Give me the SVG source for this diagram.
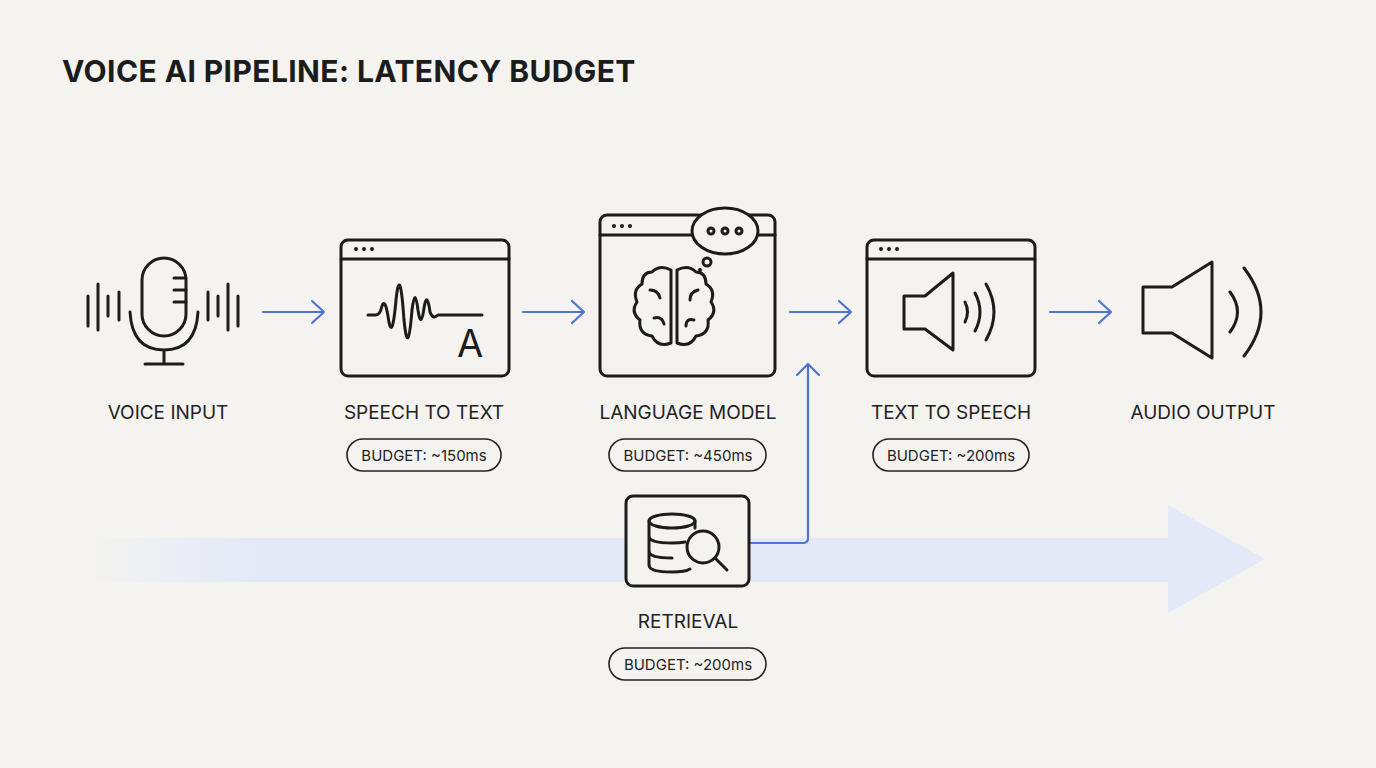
<svg xmlns="http://www.w3.org/2000/svg" width="1376" height="768" viewBox="0 0 1376 768">
<style>
.ic{fill:none;stroke:#1c1c1c;stroke-width:3;stroke-linecap:round;stroke-linejoin:round}
.box{fill:#f4f3ef;stroke:#1c1c1c;stroke-width:3}
.lbl{font-family:Inter,"Liberation Sans",sans-serif;font-size:19px;fill:#222;text-anchor:middle}
.pill{fill:none;stroke:#222;stroke-width:1.6}
.pt{font-family:Inter,"Liberation Sans",sans-serif;font-size:15px;fill:#222;text-anchor:middle}
.con{fill:none;stroke:#4f74d0;stroke-width:2.2;stroke-linecap:round;stroke-linejoin:round}
</style>
<defs>
<linearGradient id="band" x1="0" x2="1"><stop offset="0" stop-color="#e4e9f8" stop-opacity="0"/><stop offset="0.15" stop-color="#e4e9f8"/><stop offset="1" stop-color="#e4e9f8"/></linearGradient>
</defs>
<rect width="1376" height="768" fill="#f4f3ef"/>
<text x="62" y="82" font-family="Inter,'Liberation Sans',sans-serif" font-size="30" font-weight="700" letter-spacing="0.4" fill="#1c1c1c">VOICE AI PIPELINE: LATENCY BUDGET</text>
<path d="M80 538H1168V505L1265 559L1168 613V582H80Z" fill="url(#band)"/>
<g id="connectors">
<path class="con" d="M263 312H324M312 301L324 312L312 323"/>
<path class="con" d="M523 312H584M572 301L584 312L572 323"/>
<path class="con" d="M790 312H851M839 301L851 312L839 323"/>
<path class="con" d="M1050 312H1111M1099 301L1111 312L1099 323"/>
<path class="con" d="M750 543H803Q808 543 808 538V364M797 375L808 364L819 375"/>
</g>
<g id="voice-input">
<rect class="ic" x="142" y="258" width="44" height="78" rx="22"/>
<path class="ic" d="M174 278H186M174 290H186M174 302H186"/>
<path class="ic" d="M130 312Q132 350 164 350Q196 350 198 312M164 350V364M145 364H183"/>
<path class="ic" d="M88 296V326M98 284V330M108 296V316M119 292V320M208 292V320M218 296V316M228 284V330M238 296V326"/>
<text class="lbl" x="168" y="419">VOICE INPUT</text>
</g>
<g id="speech-to-text">
<rect class="box" x="341" y="240" width="168" height="136" rx="7"/>
<path class="ic" d="M341 259H509"/>
<circle cx="356" cy="249" r="2" fill="#1c1c1c"/><circle cx="364" cy="249" r="2" fill="#1c1c1c"/><circle cx="372" cy="249" r="2" fill="#1c1c1c"/>
<path class="ic" d="M368 315H376Q380 315 382 306Q385 298 388 316Q392 345 396 300Q400 262 404 320Q408 360 412 310Q415 285 418 310Q421 330 424 308Q427 290 430 312Q433 320 438 315H482"/>
<text x="470" y="357" font-family="Inter,'Liberation Sans',sans-serif" font-size="38" fill="#1c1c1c" text-anchor="middle">A</text>
<text class="lbl" x="424" y="419">SPEECH TO TEXT</text>
<rect class="pill" x="347" y="439" width="154" height="32" rx="16"/>
<text class="pt" x="424" y="461">BUDGET: ~150ms</text>
</g>
<g id="language-model">
<rect class="box" x="600" y="215" width="175" height="161" rx="7"/>
<path class="ic" d="M600 235H775"/>
<circle cx="614" cy="226" r="2" fill="#1c1c1c"/><circle cx="622" cy="226" r="2" fill="#1c1c1c"/><circle cx="630" cy="226" r="2" fill="#1c1c1c"/>
<ellipse cx="725" cy="231" rx="33" ry="23" fill="#f4f3ef" stroke="#1c1c1c" stroke-width="3"/>
<circle class="ic" cx="711" cy="231" r="3"/><circle class="ic" cx="725" cy="231" r="3"/><circle class="ic" cx="739" cy="231" r="3"/>
<circle class="ic" cx="707" cy="262" r="4"/><circle cx="700" cy="270" r="2" fill="#1c1c1c"/>
<path class="ic" d="M671 270Q660 264 652 272Q642 272 642 284Q632 290 637 302Q630 312 640 320Q638 334 652 336Q658 348 671 343ZM677 270Q688 264 696 272Q706 272 706 284Q716 290 711 302Q718 312 708 320Q710 334 696 336Q690 348 677 343ZM671 270V343M677 270V343"/>
<path class="ic" d="M650 290Q658 290 660 298M654 318Q662 316 664 324M698 290Q690 292 690 300M694 320Q686 318 686 326"/>
<text class="lbl" x="688" y="419">LANGUAGE MODEL</text>
<rect class="pill" x="609" y="439" width="157" height="32" rx="16"/>
<text class="pt" x="688" y="461">BUDGET: ~450ms</text>
</g>
<g id="text-to-speech">
<rect class="box" x="867" y="240" width="168" height="136" rx="7"/>
<path class="ic" d="M867 259H1035"/>
<circle cx="881" cy="249" r="2" fill="#1c1c1c"/><circle cx="889" cy="249" r="2" fill="#1c1c1c"/><circle cx="897" cy="249" r="2" fill="#1c1c1c"/>
<path class="ic" d="M904 296H925L953 273V350L925 329H904Z"/>
<path class="ic" d="M965 302Q970 312 965 322M975 293Q985 312 975 331M986 284Q1002 312 986 340"/>
<text class="lbl" x="951" y="419">TEXT TO SPEECH</text>
<rect class="pill" x="873" y="439" width="156" height="32" rx="16"/>
<text class="pt" x="951" y="461">BUDGET: ~200ms</text>
</g>
<g id="audio-output">
<path class="ic" d="M1143 287H1172L1212 262V358L1172 333H1143Z"/>
<path class="ic" d="M1230 292Q1245 312 1230 332M1244 268Q1278 312 1244 356"/>
<text class="lbl" x="1203" y="419">AUDIO OUTPUT</text>
</g>
<g id="retrieval">
<rect class="box" x="626" y="496" width="123" height="90" rx="7"/>
<ellipse class="ic" cx="672" cy="521" rx="23" ry="7"/>
<path class="ic" d="M649 521V565Q649 572 672 572Q685 572 690 569M649 536Q649 543 672 543Q680 543 685 542M649 551Q649 558 672 558M695 521V528"/>
<circle class="ic" cx="703" cy="547" r="16" fill="#f4f3ef"/>
<path class="ic" d="M715 558L727 570"/>
<text class="lbl" x="688" y="628">RETRIEVAL</text>
<rect class="pill" x="609" y="648" width="157" height="32" rx="16"/>
<text class="pt" x="688" y="670">BUDGET: ~200ms</text>
</g>
</svg>
